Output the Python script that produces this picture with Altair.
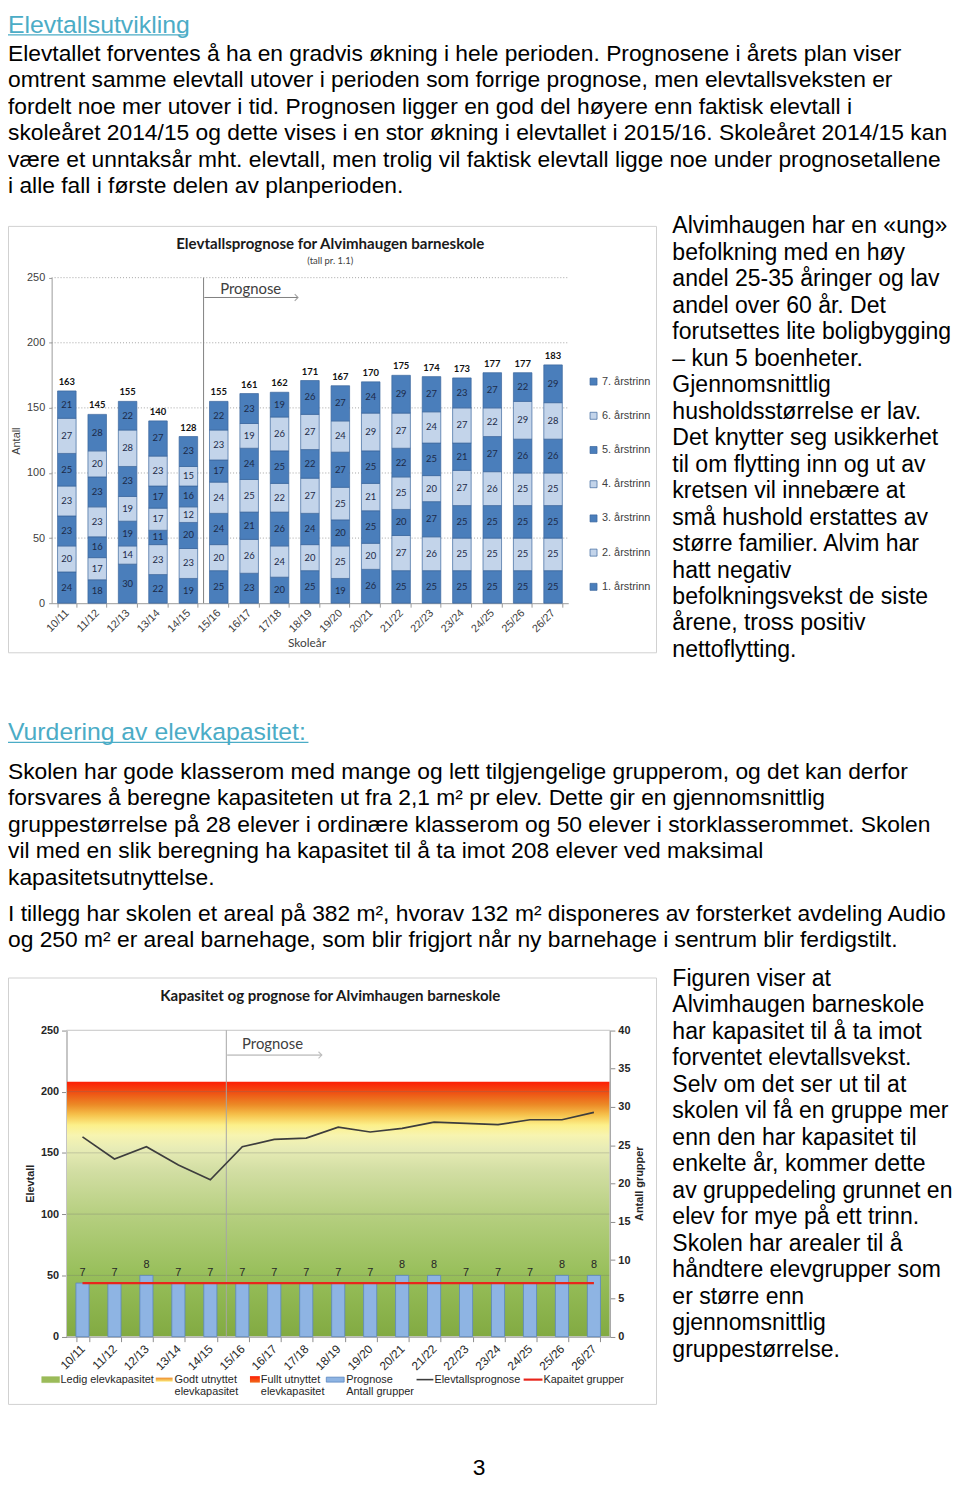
import altair as alt
import pandas as pd

# ---------------- data ----------------
YEARS = ["10/11", "11/12", "12/13", "13/14", "14/15", "15/16", "16/17", "17/18", "18/19",
         "19/20", "20/21", "21/22", "22/23", "23/24", "24/25", "25/26", "26/27"]
GRADES = ["1. årstrinn", "2. årstrinn", "3. årstrinn", "4. årstrinn",
          "5. årstrinn", "6. årstrinn", "7. årstrinn"]
G1 = [24, 18, 30, 22, 19, 25, 23, 20, 25, 19, 26, 25, 25, 25, 25, 25, 25]
G2 = [20, 17, 14, 23, 23, 20, 26, 24, 20, 25, 20, 27, 26, 25, 25, 25, 25]
G3 = [23, 16, 19, 11, 20, 24, 21, 26, 24, 20, 25, 20, 27, 25, 25, 25, 25]
G4 = [23, 23, 19, 17, 12, 24, 25, 22, 27, 25, 21, 25, 20, 27, 26, 25, 25]
G5 = [25, 23, 23, 17, 16, 17, 24, 25, 22, 27, 25, 22, 25, 21, 27, 26, 26]
G6 = [27, 20, 28, 23, 15, 23, 19, 26, 27, 24, 29, 27, 24, 27, 22, 29, 28]
G7 = [21, 28, 22, 27, 23, 22, 23, 19, 26, 27, 24, 29, 27, 23, 27, 22, 29]
TOTALS = [163, 145, 155, 140, 128, 155, 161, 162, 171, 167, 170, 175, 174, 173, 177, 177, 183]
GROUPS = [7, 7, 8, 7, 7, 7, 7, 7, 7, 7, 8, 8, 7, 7, 7, 8, 8]
CAP_GROUPS = 7
CAP_STUDENTS = 208
PROGNOSE_FROM = "15/16"
Y1_TICKS = [0, 50, 100, 150, 200, 250]
Y2_TICKS = [0, 50, 100, 150, 200, 250]
YR_TICKS = [0, 5, 10, 15, 20, 25, 30, 35, 40]

HEAD1 = "Elevtallsutvikling"
PARA1 = [
    "Elevtallet forventes å ha en gradvis økning i hele perioden. Prognosene i årets plan viser",
    "omtrent samme elevtall utover i perioden som forrige prognose, men elevtallsveksten er",
    "fordelt noe mer utover i tid. Prognosen ligger en god del høyere enn faktisk elevtall i",
    "skoleåret 2014/15 og dette vises i en stor økning i elevtallet i 2015/16. Skoleåret 2014/15 kan",
    "være et unntaksår mht. elevtall, men trolig vil faktisk elevtall ligge noe under prognosetallene",
    "i alle fall i første delen av planperioden.",
]
SIDE1 = [
    "Alvimhaugen har en «ung»", "befolkning med en høy", "andel 25-35 åringer og lav",
    "andel over 60 år. Det", "forutsettes lite boligbygging", "– kun 5 boenheter.",
    "Gjennomsnittlig", "husholdsstørrelse er lav.", "Det knytter seg usikkerhet",
    "til om flytting inn og ut av", "kretsen vil innebære at", "små hushold erstattes av",
    "større familier. Alvim har", "hatt negativ", "befolkningsvekst de siste",
    "årene, tross positiv", "nettoflytting.",
]
HEAD2 = "Vurdering av elevkapasitet:"
PARA2 = [
    "Skolen har gode klasserom med mange og lett tilgjengelige grupperom, og det kan derfor",
    "forsvares å beregne kapasiteten ut fra 2,1 m² pr elev. Dette gir en gjennomsnittlig",
    "gruppestørrelse på 28 elever i ordinære klasserom og 50 elever i storklasserommet. Skolen",
    "vil med en slik beregning ha kapasitet til å ta imot 208 elever ved maksimal",
    "kapasitetsutnyttelse.",
]
PARA3 = [
    "I tillegg har skolen et areal på 382 m², hvorav 132 m² disponeres av forsterket avdeling Audio",
    "og 250 m² er areal barnehage, som blir frigjort når ny barnehage i sentrum blir ferdigstilt.",
]
SIDE2 = [
    "Figuren viser at", "Alvimhaugen barneskole", "har kapasitet til å ta imot",
    "forventet elevtallsvekst.", "Selv om det ser ut til at", "skolen vil få en gruppe mer",
    "enn den har kapasitet til", "enkelte år, kommer dette", "av gruppedeling grunnet en",
    "elev for mye på ett trinn.", "Skolen har arealer til å", "håndtere elevgrupper som",
    "er større enn", "gjennomsnittlig", "gruppestørrelse.",
]
TITLE1 = "Elevtallsprognose for Alvimhaugen barneskole"
SUB1 = "(tall pr. 1.1)"
TITLE2 = "Kapasitet og prognose for Alvimhaugen barneskole"
PAGE_NO = "3"

# ---------------- layout / style ----------------
W, H = 952, 1474
FONT = "Liberation Sans"
CFONT = "Lato"
TEAL = "#4bacc6"
DARK = "#4a7ebb"
LIGHT = "#c3d4ea"
ONE = alt.Data(values=[{"k": 0}])
BODY = 23.0

layers = []


def text_block(lines, x, y0, lh, size=BODY, color="#000000", weight="normal", font=FONT, align="left"):
    df = pd.DataFrame({"txt": lines, "i": list(range(len(lines)))})
    return (alt.Chart(df)
            .mark_text(align=align, baseline="alphabetic", font=font, fontSize=size,
                       color=color, fontWeight=weight)
            .transform_calculate(py=f"{y0} + datum.i * {lh}")
            .encode(x=alt.value(x), y=alt.Y("py:Q", scale=None, axis=None), text="txt:N"))


def label(txt, x, y, size, font=FONT, weight="normal", color="#000000", align="left", baseline="middle"):
    return (alt.Chart(alt.Data(values=[{"t": txt}]))
            .mark_text(align=align, baseline=baseline, font=font, fontSize=size,
                       fontWeight=weight, color=color)
            .encode(x=alt.value(x), y=alt.value(y), text="t:N"))


def hline(x1, x2, y, color, width=1.0):
    return (alt.Chart(ONE).mark_rule(color=color, strokeWidth=width)
            .encode(x=alt.value(x1), x2=alt.value(x2), y=alt.value(y)))


def box(x1, x2, y1, y2, stroke="#d0d0d0", fill="#ffffff", fill_opacity=0.0, sw=1.0):
    return (alt.Chart(ONE).mark_rect(fill=fill, fillOpacity=fill_opacity, stroke=stroke, strokeWidth=sw)
            .encode(x=alt.value(x1), x2=alt.value(x2), y=alt.value(y1), y2=alt.value(y2)))


def arrow_head(x, y, color="#7f7f7f"):
    return (alt.Chart(ONE).mark_point(shape="M-1,-1L0,0L-1,1", filled=False, size=45,
                                      stroke=color, strokeWidth=1.1)
            .encode(x=alt.value(x), y=alt.value(y)))


# ---------------- text of page ----------------
layers.append(text_block([HEAD1], 0, 18.5, 0, size=25, color=TEAL))
layers.append(hline(0, 181, 20.8, TEAL, 1.3))
layers.append(text_block(PARA1, 0, 47, 26.7))
layers.append(text_block(SIDE1, 670, 221, 26.7, size=23.2))
layers.append(text_block([HEAD2], 0, 732, 0, size=25, color=TEAL))
layers.append(hline(0, 303, 734.3, TEAL, 1.3))
layers.append(text_block(PARA2, 0, 771, 26.7))
layers.append(text_block(PARA3, 0, 914, 26.7))
layers.append(text_block(SIDE2, 670, 980, 26.7, size=23.2))
layers.append(text_block([PAGE_NO], 475, 1473.5, 0, align="center"))

# ---------------- chart 1 ----------------
layers.append(box(0.5, 654, 214, 644))
X1 = alt.Scale(type="band", domain=YEARS, range=[44, 565], paddingInner=0.39, paddingOuter=0.195)
Y1 = alt.Scale(type="linear", domain=[0, 250], range=[594, 265.7], nice=False, zero=False)
STEP1 = (565 - 44) / len(YEARS)

rows = []
for gi, (g, arr) in enumerate(zip(GRADES, [G1, G2, G3, G4, G5, G6, G7]), start=1):
    for yr, v in zip(YEARS, arr):
        rows.append({"year": yr, "grade": g, "gi": gi, "value": v})
long1 = pd.DataFrame(rows)
tot1 = pd.DataFrame({"year": YEARS, "total": TOTALS})

layers.append(label(TITLE1, 325, 232, 15.2, font=CFONT, weight="bold", color="#1a1a1a", align="center"))
layers.append(label(SUB1, 325, 248.5, 9.5, font=CFONT, color="#404040", align="center"))

grid1 = (alt.Chart(pd.DataFrame({"v": Y1_TICKS[1:]}))
         .mark_rule(color="#9a9a9a", strokeWidth=0.9, strokeDash=[1, 2])
         .encode(y=alt.Y("v:Q", scale=Y1, axis=None), x=alt.value(44), x2=alt.value(565)))
layers.append(grid1)

xaxis1 = alt.Axis(orient="bottom", offset=594 - H, labelAngle=315, labelAlign="right",
                  labelBaseline="middle", labelPadding=4, labelFont=FONT, labelFontSize=11,
                  labelColor="#404040", labelOverlap=False, domainColor="#9a9a9a",
                  tickColor="#9a9a9a", tickSize=4, tickBand="extent", grid=False,
                  title="Skoleår", titleFont=CFONT, titleFontSize=12, titleFontWeight="normal",
                  titleColor="#404040", titleX=301, titleY=40, titleAlign="center",
                  titleBaseline="middle")
yaxis1 = alt.Axis(orient="left", offset=-44, values=Y1_TICKS, grid=False, domainColor="#9a9a9a",
                  tickColor="#9a9a9a", tickSize=3, labelFont=FONT, labelFontSize=11,
                  labelColor="#404040", labelPadding=4, title="Antall", titleFont=FONT,
                  titleFontSize=11, titleFontWeight="normal", titleColor="#404040",
                  titleX=-35.3, titleY=430, titleAngle=270, titleAlign="center",
                  titleBaseline="middle")
leg1 = alt.Legend(orient="none", legendX=585, legendY=365, title=None, symbolType="square",
                  symbolSize=50, symbolStrokeColor="#3a669c", symbolStrokeWidth=0.7,
                  labelFont=FONT, labelFontSize=11, labelColor="#404040", rowPadding=22.5,
                  labelOffset=3, padding=0)
col_range = [DARK if (7 - k) % 2 == 1 else LIGHT for k in range(7)]

bars1 = (alt.Chart(long1).mark_bar(stroke="#3a669c", strokeWidth=0.7)
         .encode(x=alt.X("year:N", scale=X1, axis=xaxis1),
                 y=alt.Y("value:Q", scale=Y1, stack="zero", axis=yaxis1),
                 color=alt.Color("grade:N", scale=alt.Scale(domain=GRADES[::-1], range=col_range),
                                 legend=leg1),
                 order=alt.Order("gi:Q", sort="ascending")))
layers.append(bars1)

seg1 = (alt.Chart(long1)
        .transform_stack(stack="value", groupby=["year"], as_=["v0", "v1"],
                         sort=[alt.SortField("gi", order="ascending")])
        .transform_calculate(mid="(datum.v0 + datum.v1) / 2")
        .mark_text(font=CFONT, fontSize=9.5, color="#1c2a48", baseline="middle")
        .encode(x=alt.X("year:N", scale=X1, axis=None),
                y=alt.Y("mid:Q", scale=Y1, axis=None), text="value:Q"))
layers.append(seg1)

totl1 = (alt.Chart(tot1).mark_text(font=CFONT, fontSize=9.5, fontWeight="bold", color="#111111",
                                    dy=-9, baseline="middle")
         .encode(x=alt.X("year:N", scale=X1, axis=None),
                 y=alt.Y("total:Q", scale=Y1, axis=None), text="total:Q"))
layers.append(totl1)

prog1 = (alt.Chart(pd.DataFrame([{"year": PROGNOSE_FROM, "lo": 0, "hi": 250}]))
         .mark_rule(color="#7f7f7f", strokeWidth=1, xOffset=-STEP1 / 2)
         .encode(x=alt.X("year:N", scale=X1, axis=None),
                 y=alt.Y("lo:Q", scale=Y1, axis=None), y2="hi:Q"))
layers.append(prog1)
layers.append(label("Prognose", 214, 277, 15, font=CFONT, color="#404040"))
layers.append(hline(198, 292, 285.7, "#7f7f7f", 1))
layers.append(arrow_head(292.5, 285.7))

# ---------------- chart 2 ----------------
layers.append(box(0.5, 654, 972, 1402))
X2 = alt.Scale(type="band", domain=YEARS, range=[59, 607], paddingInner=0.59, paddingOuter=0.295)
YL = alt.Scale(type="linear", domain=[0, 250], range=[1333.7, 1024.7], nice=False, zero=False)
YR = alt.Scale(type="linear", domain=[0, 40], range=[1333.7, 1024.7], nice=False, zero=False)
STEP2 = (607 - 59) / len(YEARS)

layers.append(label(TITLE2, 325, 990, 15.2, font=CFONT, weight="bold", color="#1a1a1a", align="center"))

grad = alt.LinearGradient(
    gradient="linear", x1=0, x2=0, y1=1, y2=0,
    stops=[alt.GradientStop(color="#82aa42", offset=0.0),
           alt.GradientStop(color="#98bf5b", offset=0.25),
           alt.GradientStop(color="#b6cf80", offset=0.48),
           alt.GradientStop(color="#d2dea3", offset=0.65),
           alt.GradientStop(color="#e8ecb6", offset=0.74),
           alt.GradientStop(color="#f7f4b0", offset=0.79),
           alt.GradientStop(color="#fcf08a", offset=0.83),
           alt.GradientStop(color="#f6c24c", offset=0.87),
           alt.GradientStop(color="#ec8a26", offset=0.91),
           alt.GradientStop(color="#ee5a16", offset=0.95),
           alt.GradientStop(color="#fd1e05", offset=1.0)])

yaxisL = alt.Axis(orient="left", offset=-59, values=Y2_TICKS, grid=False, domainColor="#8c8c8c",
                  tickColor="#8c8c8c", tickSize=5, labelFont=FONT, labelFontSize=11,
                  labelFontWeight="bold", labelColor="#262626", labelPadding=3,
                  title="Elevtall", titleFont=FONT, titleFontSize=11, titleFontWeight="bold",
                  titleColor="#262626", titleX=-36.3, titleY=1179, titleAngle=270,
                  titleAlign="center", titleBaseline="middle")
band2 = (alt.Chart(pd.DataFrame([{"lo": 0, "cap": CAP_STUDENTS}]))
         .mark_rect(fill=grad)
         .encode(x=alt.value(59), x2=alt.value(607),
                 y=alt.Y("lo:Q", scale=YL, axis=yaxisL), y2="cap:Q"))
layers.append(band2)

grid2 = (alt.Chart(pd.DataFrame({"v": Y2_TICKS[1:-1]}))
         .mark_rule(color="#6e6e6e", strokeWidth=1, opacity=0.3)
         .encode(y=alt.Y("v:Q", scale=YL, axis=None), x=alt.value(59), x2=alt.value(607)))
layers.append(grid2)

frame2 = (alt.Chart(pd.DataFrame([{"lo": 0, "hi": 250}]))
          .mark_rect(fill="#ffffff", fillOpacity=0, stroke="#c4c4c4", strokeWidth=1)
          .encode(x=alt.value(59), x2=alt.value(607),
                  y=alt.Y("lo:Q", scale=YL, axis=None), y2="hi:Q"))
layers.append(frame2)

prog2 = (alt.Chart(pd.DataFrame([{"year": PROGNOSE_FROM, "lo": 0, "hi": 250}]))
         .mark_rule(color="#a6a6a6", strokeWidth=1, xOffset=-STEP2 / 2)
         .encode(x=alt.X("year:N", scale=X2, axis=None),
                 y=alt.Y("lo:Q", scale=YL, axis=None), y2="hi:Q"))
layers.append(prog2)
layers.append(label("Prognose", 236, 1039, 15, font=CFONT, color="#404040"))
layers.append(hline(221, 316, 1049.7, "#a6a6a6", 1))
layers.append(arrow_head(316.5, 1049.7, "#a6a6a6"))

df2 = pd.DataFrame({"year": YEARS, "total": TOTALS, "groups": GROUPS,
                    "cap": [CAP_GROUPS] * len(YEARS)})

xaxis2 = alt.Axis(orient="bottom", offset=1333.7 - H, labelAngle=315, labelAlign="right",
                  labelBaseline="middle", labelPadding=5, labelFont=FONT, labelFontSize=12,
                  labelColor="#262626", labelOverlap=False, domainColor="#8c8c8c",
                  tickColor="#8c8c8c", tickSize=5, tickBand="extent", grid=False, title=None)
line2 = (alt.Chart(df2).mark_line(color="#3d3d3d", strokeWidth=1.7)
         .encode(x=alt.X("year:N", scale=X2, axis=xaxis2),
                 y=alt.Y("total:Q", scale=YL, axis=None)))
layers.append(line2)

yaxisR = alt.Axis(orient="right", offset=607 - W, values=YR_TICKS, grid=False,
                  domainColor="#8c8c8c", tickColor="#8c8c8c", tickSize=5, labelFont=FONT,
                  labelFontSize=11, labelFontWeight="bold", labelColor="#262626", labelPadding=3,
                  title="Antall grupper", titleFont=FONT, titleFontSize=11,
                  titleFontWeight="bold", titleColor="#262626", titleX=30, titleY=1179,
                  titleAngle=270, titleAlign="center", titleBaseline="middle")
bars2 = (alt.Chart(df2).mark_bar(fill="#8eb4e3", stroke="#5b86c0", strokeWidth=0.8)
         .encode(x=alt.X("year:N", scale=X2, axis=None),
                 y=alt.Y("groups:Q", scale=YR, axis=yaxisR)))
layers.append(bars2)

red2 = (alt.Chart(df2).mark_line(color="#e8251b", strokeWidth=2.2)
        .encode(x=alt.X("year:N", scale=X2, axis=None),
                y=alt.Y("cap:Q", scale=YR, axis=None)))
layers.append(red2)

lab2 = (alt.Chart(df2).mark_text(font=FONT, fontSize=11, color="#262626", dy=-10, baseline="middle")
        .encode(x=alt.X("year:N", scale=X2, axis=None),
                y=alt.Y("groups:Q", scale=YR, axis=None), text="groups:Q"))
layers.append(lab2)

# legend of chart 2
R1, R2 = 1377, 1389.3
sw_godt = alt.LinearGradient(gradient="linear", x1=0, x2=0, y1=1, y2=0,
                             stops=[alt.GradientStop(color="#fbe87a", offset=0),
                                    alt.GradientStop(color="#ee8a2a", offset=1)])
sw_full = alt.LinearGradient(gradient="linear", x1=0, x2=0, y1=1, y2=0,
                             stops=[alt.GradientStop(color="#f06a1a", offset=0),
                                    alt.GradientStop(color="#fd1e05", offset=1)])
layers.append(box(34, 52, 1374, 1380, stroke="#9bbb59", fill="#9bbb59", fill_opacity=1, sw=0.5))
layers.append(alt.Chart(ONE).mark_rect(fill=sw_godt)
              .encode(x=alt.value(149), x2=alt.value(166), y=alt.value(1375), y2=alt.value(1379)))
layers.append(alt.Chart(ONE).mark_rect(fill=sw_full)
              .encode(x=alt.value(244), x2=alt.value(254), y=alt.value(1373.5), y2=alt.value(1380)))
layers.append(box(321, 339, 1374.5, 1379.5, stroke="#5b86c0", fill="#8eb4e3", fill_opacity=1, sw=0.8))
layers.append(hline(412, 429, R1, "#3d3d3d", 1.6))
layers.append(hline(520, 539, R1, "#e8251b", 2.2))
for txt, x, y in [("Ledig elevkapasitet", 53, R1), ("Godt utnyttet", 168, R1),
                  ("elevkapasitet", 168, R2), ("Fullt utnyttet", 255, R1),
                  ("elevkapasitet", 255, R2), ("Prognose", 341, R1), ("Antall grupper", 341, R2),
                  ("Elevtallsprognose", 430, R1), ("Kapaitet grupper", 540, R1)]:
    layers.append(label(txt, x, y, 11, color="#262626"))

chart = (alt.layer(*layers)
         .resolve_scale(x="independent", y="independent")
         .properties(width=W, height=H, padding=0, background="white",
                     autosize=alt.AutoSizeParams(type="none"))
         .configure_view(strokeWidth=0))

chart.save("out.html", embed_options={"renderer": "svg", "actions": False})
